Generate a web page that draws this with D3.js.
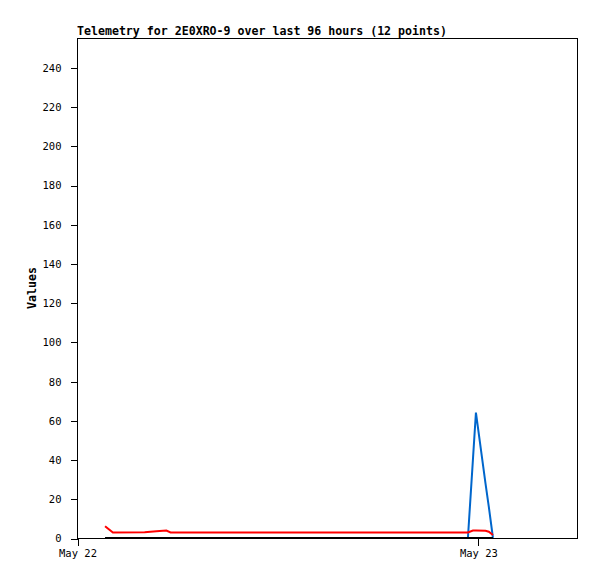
<!DOCTYPE html>
<html>
<head>
<meta charset="utf-8">
<script src="https://cdn.jsdelivr.net/npm/d3@7"></script>
<style>
  html, body { margin: 0; padding: 0; background: #fff; }
  svg { display: block; }
</style>
</head>
<body>
<svg id="chart" width="597" height="579"></svg>
<script>
// ---- data ----
const titleText = "Telemetry for 2E0XRO-9 over last 96 hours (12 points)";
const yLabelText = "Values";
// hours since May 22 00:00 (UTC)
const hours = [1.68, 2.15, 4.05, 4.75, 5.35, 5.6, 23.4, 23.7, 23.88, 24.45, 24.65, 24.9];
const redValues = [6, 2.8, 2.9, 3.4, 3.8, 2.8, 2.8, 3.8, 3.8, 3.7, 3.2, 1.5];
const blueValues = [0, 0, 0, 0, 0, 0, 0, 40, 64, 28, 16, 0];
const blackValues = [0, 0, 0, 0, 0, 0, 0, 0, 0, 0, 0, 0];
const yTicks = [0, 20, 40, 60, 80, 100, 120, 140, 160, 180, 200, 220, 240];
const xTickLabels = ["May 22", "May 23"];
const xTickHours = [0, 24];
const yMax = 255;
const xSpanHours = 29.93;

// ---- layout ----
const L = 77, T = 38, R = 577, B = 538;
const base = Date.UTC(2024, 4, 22, 0, 0, 0);
const toDate = h => new Date(base + h * 3600 * 1000);

const svg = d3.select("#chart");
const x = d3.scaleUtc().domain([toDate(0), toDate(xSpanHours)]).range([L, R]);
const y = d3.scaleLinear().domain([0, yMax]).range([B, T]);

const monoFont = "'DejaVu Sans Mono', 'Liberation Mono', monospace";

// series
const series = [
  { vals: blueValues, color: "#0066cc" },
  { vals: redValues, color: "#ff0000" },
  { vals: blackValues, color: "#000000" }
];
const line = d3.line().x(d => x(d.t)).y(d => y(d.v));
series.forEach(s => {
  const pts = hours.map((h, i) => ({ t: toDate(h), v: s.vals[i] }));
  svg.append("path")
    .datum(pts)
    .attr("d", line)
    .attr("fill", "none")
    .attr("stroke", s.color)
    .attr("stroke-width", 2)
    .attr("stroke-linejoin", "miter");
});

// y axis
const yAxis = d3.axisLeft(y).tickValues(yTicks).tickSize(7).tickPadding(9).tickFormat(d3.format("d"));
const gy = svg.append("g").attr("transform", `translate(${L + 0.5},0.5)`).call(yAxis);
gy.select(".domain").remove();
gy.selectAll("line").attr("stroke", "#000").attr("shape-rendering", "crispEdges");
gy.selectAll("text").attr("font-family", monoFont).attr("font-size", "10.5px").attr("fill", "#000");

// x axis
const xAxis = d3.axisBottom(x).tickValues(xTickHours.map(toDate)).tickSize(7).tickPadding(4)
  .tickFormat((d, i) => xTickLabels[i]);
const gx = svg.append("g").attr("transform", `translate(0.5,${B + 0.5})`).call(xAxis);
gx.select(".domain").remove();
gx.selectAll("line").attr("stroke", "#000").attr("shape-rendering", "crispEdges");
gx.selectAll("text").attr("font-family", monoFont).attr("font-size", "10.5px").attr("fill", "#000");

// border
svg.append("rect")
  .attr("x", L + 0.5).attr("y", T + 0.5)
  .attr("width", R - L).attr("height", B - T)
  .attr("fill", "none").attr("stroke", "#000").attr("stroke-width", 1)
  .attr("shape-rendering", "crispEdges");

// title
svg.append("text")
  .attr("x", L).attr("y", 35)
  .attr("font-family", monoFont).attr("font-weight", "bold").attr("font-size", "11.6px")
  .attr("fill", "#000")
  .text(titleText);

// y label
svg.append("text")
  .attr("transform", `translate(36,${(T + B) / 2}) rotate(-90)`)
  .attr("text-anchor", "middle")
  .attr("font-family", monoFont).attr("font-weight", "bold").attr("font-size", "11.6px")
  .attr("fill", "#000")
  .text(yLabelText);
</script>
</body>
</html>
